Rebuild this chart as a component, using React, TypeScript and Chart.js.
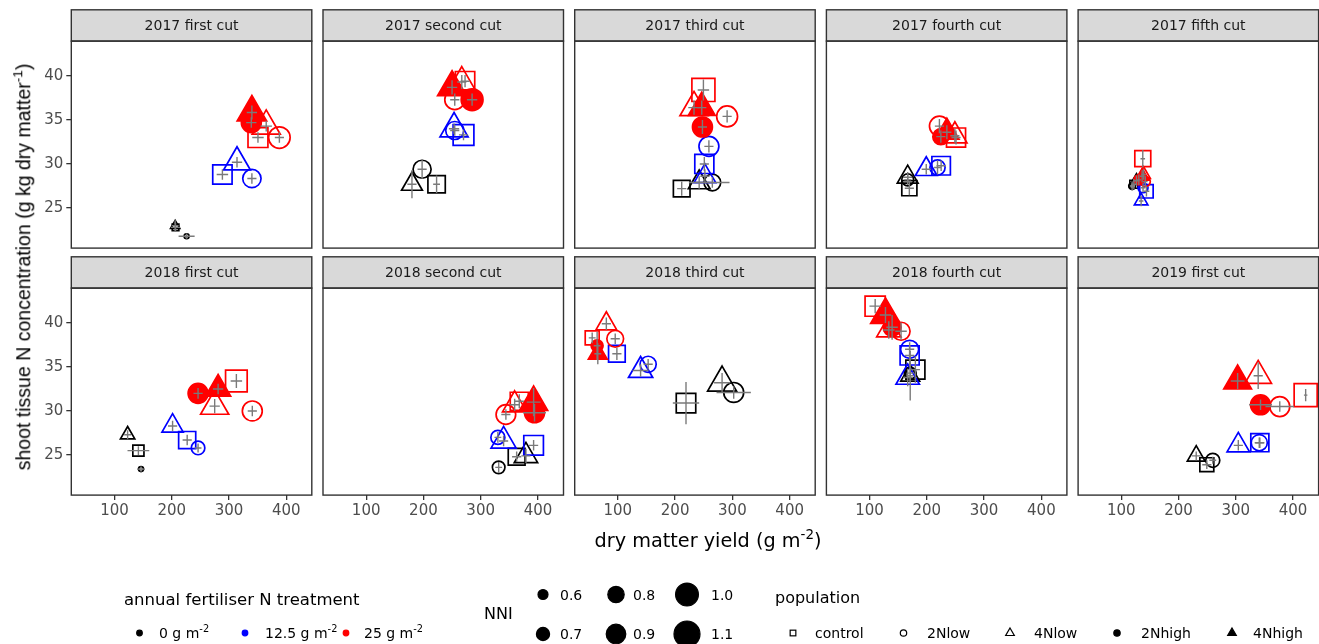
import React, { useEffect, useRef } from 'react';
import { Chart, registerables } from 'chart.js';

Chart.register(...registerables);

// ---------------- data ----------------
const panelTitles = [
  '2017 first cut', '2017 second cut', '2017 third cut', '2017 fourth cut', '2017 fifth cut',
  '2018 first cut', '2018 second cut', '2018 third cut', '2018 fourth cut', '2019 first cut',
];

// point order inside every cut
const pointTreatment = ['0', '0', '0', '12.5', '12.5', '12.5', '25', '25', '25', '25', '25'];
const pointPopulation = ['control', '2Nlow', '4Nlow', 'control', '2Nlow', '4Nlow', 'control', '2Nlow', '4Nlow', '2Nhigh', '4Nhigh'];

// dry matter yield (g m-2)
const dmYield = [
  [206.7, 226, 206, 288.5, 340, 314, 350.6, 388, 365, 339, 340],
  [223, 197.7, 180, 270, 254.7, 253.5, 272.7, 254.7, 267, 285, 250],
  [211.5, 265, 242, 251, 259, 252, 249.4, 290.8, 233, 247.7, 246.5],
  [169.5, 166.6, 166.6, 225, 218.7, 199, 251, 222, 249, 224.5, 235],
  [122, 119, 126.6, 144, 138, 134.7, 137.6, 142, 139, 130.7, 136.5],
  [141.8, 146.4, 123, 227, 246, 201.5, 312.9, 340.7, 275, 246, 281],
  [362.8, 331.4, 379, 392.4, 330, 340, 367.4, 344, 359.3, 394, 392.4],
  [219, 302.3, 282, 98.3, 152.9, 139.7, 55.2, 95.4, 79.9, 63.8, 65],
  [180, 171, 171, 170, 170, 166.6, 109.8, 155, 133.6, 139.4, 127.8],
  [249.4, 259.8, 230.9, 342, 341, 304.4, 422, 376.8, 339.1, 343.2, 303.2],
];
// shoot tissue N concentration (g kg-1)
const nConc = [
  [22.8, 21.8, 23.0, 28.8, 28.35, 30.2, 33.0, 33.0, 34.3, 34.7, 35.85],
  [27.7, 29.4, 27.7, 33.3, 33.8, 34.0, 39.4, 37.3, 39.3, 37.3, 38.7],
  [27.2, 27.9, 27.9, 30.0, 32.0, 28.6, 38.4, 35.4, 36.4, 34.2, 36.4],
  [27.25, 28.2, 28.5, 29.8, 29.6, 29.4, 33.0, 34.3, 33.2, 33.1, 33.6],
  [27.7, 27.5, 28.1, 26.9, 27.3, 25.8, 30.6, 28.0, 28.8, 28.2, 28.6],
  [25.5, 23.4, 27.3, 26.7, 25.8, 28.3, 33.4, 30.0, 30.55, 32.0, 32.5],
  [24.8, 23.6, 24.9, 26.1, 27.0, 26.6, 31.1, 29.6, 30.7, 29.8, 31.0],
  [30.9, 32.1, 33.2, 36.5, 35.3, 34.6, 38.3, 38.2, 39.9, 37.4, 36.5],
  [34.7, 34.3, 34.0, 36.3, 37.0, 33.8, 41.9, 39.05, 39.2, 39.5, 40.9],
  [23.9, 24.4, 24.9, 26.4, 26.4, 26.1, 31.8, 30.5, 34.0, 30.7, 33.4],
];
// nitrogen nutrition index
const nni = [
  [0.52, 0.44, 0.50, 0.97, 0.86, 0.91, 0.99, 0.96, 0.94, 0.91, 0.97],
  [0.90, 0.85, 0.77, 1.02, 0.85, 0.94, 0.97, 0.91, 0.91, 0.97, 0.96],
  [0.875, 0.81, 0.79, 0.96, 0.91, 0.79, 1.10, 0.94, 0.94, 0.91, 0.91],
  [0.82, 0.66, 0.77, 0.94, 0.76, 0.79, 0.96, 0.91, 0.85, 0.79, 0.85],
  [0.57, 0.50, 0.57, 0.76, 0.60, 0.60, 0.85, 0.60, 0.60, 0.60, 0.60],
  [0.68, 0.44, 0.62, 0.89, 0.71, 0.78, 1.05, 0.91, 0.94, 0.91, 0.87],
  [0.88, 0.68, 0.83, 0.98, 0.725, 0.87, 0.925, 0.90, 0.85, 0.91, 0.94],
  [0.975, 0.91, 0.96, 0.875, 0.79, 0.85, 0.78, 0.81, 0.77, 0.66, 0.725],
  [0.96, 0.66, 0.725, 0.96, 0.85, 0.83, 1.00, 0.85, 0.85, 0.85, 0.975],
  [0.78, 0.725, 0.70, 0.925, 0.79, 0.81, 1.10, 0.91, 0.905, 0.91, 0.93],
];
// standard errors
const dmYieldErr = [
  [8, 14, 6, 10, 8, 9, 10, 8, 10, 9, 9],
  [6, 8, 8, 8, 8, 9, 8, 8, 8, 9, 9],
  [8, 30, 18, 8, 8, 8, 10, 8, 10, 8, 8],
  [8, 6, 8, 8, 6, 8, 8, 8, 8, 8, 8],
  [5, 4, 5, 5, 4, 4, 4, 4, 4, 4, 4],
  [19, 7, 6, 8, 6, 8, 10, 8, 9, 8, 9],
  [8, 6, 8, 8, 6, 8, 8, 8, 8, 20, 12],
  [23, 30, 14, 8, 8, 14, 6, 8, 8, 6, 6],
  [8, 6, 6, 8, 8, 8, 10, 10, 10, 10, 10],
  [8, 6, 8, 8, 8, 8, 3, 25, 8, 20, 12],
];
const nConcErr = [
  [0.5, 0.3, 0.6, 0.6, 0.6, 0.6, 0.6, 0.6, 0.6, 0.6, 0.8],
  [1.0, 1.1, 1.6, 0.6, 0.6, 0.6, 0.7, 0.7, 0.8, 0.7, 0.8],
  [0.8, 0.6, 0.7, 0.8, 0.7, 0.8, 1.2, 0.7, 0.8, 0.8, 0.8],
  [0.8, 0.6, 0.6, 0.6, 0.8, 0.6, 0.8, 0.8, 0.8, 0.7, 0.8],
  [0.6, 0.5, 0.6, 0.6, 0.5, 0.6, 1.0, 0.6, 0.6, 0.6, 0.7],
  [0.5, 0.3, 0.5, 0.6, 0.5, 0.6, 0.8, 0.6, 0.8, 0.6, 0.6],
  [0.6, 0.6, 0.8, 0.6, 0.6, 0.6, 0.8, 0.6, 0.7, 1.0, 1.6],
  [2.4, 0.7, 1.1, 0.7, 0.6, 0.7, 0.6, 0.6, 0.7, 1.6, 1.2],
  [1.5, 1.0, 2.8, 1.2, 0.8, 1.0, 0.8, 1.0, 1.0, 1.4, 0.9],
  [0.5, 0.4, 0.5, 0.6, 0.6, 0.6, 0.7, 0.6, 1.5, 0.6, 0.9],
];

const xTicks = [100, 200, 300, 400];
const yTicks = [25, 30, 35, 40];
const fertLegendLabels = ['0', '12.5', '25'];
const nniLegendValues = [0.6, 0.7, 0.8, 0.9, 1.0, 1.1];
const populationLegend = ['control', '2Nlow', '4Nlow', '2Nhigh', '4Nhigh'];

// ---------------- styles ----------------
const X_MIN = 24.65, X_MAX = 444.6;
const Y_MIN = 20.45, Y_MAX = 43.95;
const COL_LEFT = [71.3, 323.0, 574.7, 826.4, 1078.1];
const ROW_STRIP_TOP = [9.8, 256.8];
const STRIP_H = 31.3;
const PLOT_W = 240.5;
const PLOT_H = 207;
const XAXIS_H = 30;
const FONT = '"DejaVu Sans", sans-serif';

const treatmentColor: Record<string, string> = { '0': '#000000', '12.5': '#0000FF', '25': '#FF0000' };
const popShape: Record<string, { style: string; filled: boolean }> = {
  control: { style: 'rect', filled: false },
  '2Nlow': { style: 'circle', filled: false },
  '4Nlow': { style: 'triangle', filled: false },
  '2Nhigh': { style: 'circle', filled: true },
  '4Nhigh': { style: 'triangle', filled: true },
};
const shapeFactor: Record<string, number> = { circle: 1, rect: 1.253, triangle: 1.555 };
const sizeForNni = (v: number) => Math.max(1.5, 5 + (v - 0.6) * 16);

function geom(index: number) {
  const row = Math.floor(index / 5);
  const col = index % 5;
  const L = COL_LEFT[col];
  const canvasLeft = col === 0 ? 0 : Math.floor(L) - 3;
  const innerLeft = L - canvasLeft;
  const cw = Math.min(Math.ceil(innerLeft + PLOT_W + 3), 1319 - canvasLeft);
  const stripTop = ROW_STRIP_TOP[row];
  const canvasTop = Math.floor(stripTop) - 2;
  const padTop = stripTop + STRIP_H - canvasTop;
  const bottomExtra = row === 1 ? XAXIS_H : 14;
  const ch = Math.ceil(padTop + PLOT_H + bottomExtra);
  const padBottom = ch - padTop - PLOT_H - (row === 1 ? XAXIS_H : 0);
  const padRight = cw - innerLeft - PLOT_W;
  return { row, col, canvasLeft, canvasTop, cw, ch, innerLeft, padTop, padBottom, padRight };
}

const facetPlugin = {
  id: 'facet',
  beforeDraw(chart: any, _args: any, opts: any) {
    const { ctx, chartArea: a } = chart;
    ctx.save();
    ctx.fillStyle = '#d9d9d9';
    ctx.fillRect(a.left, a.top - STRIP_H, a.right - a.left, STRIP_H);
    ctx.strokeStyle = '#333333';
    ctx.lineWidth = 1.4;
    ctx.strokeRect(a.left, a.top - STRIP_H, a.right - a.left, STRIP_H);
    ctx.fillStyle = '#1a1a1a';
    ctx.font = '14px ' + FONT;
    ctx.textAlign = 'center';
    ctx.textBaseline = 'middle';
    ctx.fillText(opts.title, (a.left + a.right) / 2, a.top - STRIP_H / 2 + 1);
    ctx.restore();
  },
  afterDatasetsDraw(chart: any, _args: any, opts: any) {
    const { ctx, chartArea: a, scales } = chart;
    const p = opts.panel;
    ctx.save();
    ctx.beginPath();
    ctx.rect(a.left, a.top, a.right - a.left, a.bottom - a.top);
    ctx.clip();
    ctx.strokeStyle = '#7a7a7a';
    ctx.lineWidth = 1.4;
    for (let i = 0; i < dmYield[p].length; i++) {
      const x = dmYield[p][i], y = nConc[p][i];
      const ex = dmYieldErr[p][i], ey = nConcErr[p][i];
      const px = scales.x.getPixelForValue(x), py = scales.y.getPixelForValue(y);
      ctx.beginPath();
      ctx.moveTo(scales.x.getPixelForValue(x - ex), py);
      ctx.lineTo(scales.x.getPixelForValue(x + ex), py);
      ctx.moveTo(px, scales.y.getPixelForValue(y - ey));
      ctx.lineTo(px, scales.y.getPixelForValue(y + ey));
      ctx.stroke();
    }
    ctx.restore();
    ctx.save();
    ctx.strokeStyle = '#333333';
    ctx.lineWidth = 1.4;
    ctx.strokeRect(a.left, a.top, a.right - a.left, a.bottom - a.top);
    ctx.restore();
  },
};

function Panel({ index }: { index: number }) {
  const ref = useRef<HTMLCanvasElement | null>(null);
  const g = geom(index);
  useEffect(() => {
    if (!ref.current) return;
    const p = index;
    const data = dmYield[p].map((x, i) => ({ x, y: nConc[p][i] }));
    const styles = pointPopulation.map((pop) => popShape[pop].style);
    const colors = pointTreatment.map((t) => treatmentColor[t]);
    const fills = pointPopulation.map((pop, i) => (popShape[pop].filled ? colors[i] : 'rgba(0,0,0,0)'));
    const radii = nni[p].map((v, i) => sizeForNni(v) * shapeFactor[styles[i]]);
    const tickFont = { family: FONT, size: 15 };
    const chart = new Chart(ref.current, {
      type: 'scatter',
      data: {
        datasets: [
          {
            data,
            pointStyle: styles as any,
            pointRadius: radii,
            pointBorderColor: colors,
            pointBackgroundColor: fills,
            pointBorderWidth: 1.7,
            showLine: false,
            clip: 0,
          } as any,
        ],
      },
      options: {
        responsive: false,
        animation: false,
        devicePixelRatio: 1,
        events: [],
        layout: {
          autoPadding: false,
          padding: {
            left: g.col === 0 ? 0 : g.innerLeft,
            right: g.padRight,
            top: g.padTop,
            bottom: g.padBottom,
          },
        },
        plugins: {
          legend: { display: false },
          tooltip: { enabled: false },
          facet: { title: panelTitles[p], panel: p },
        } as any,
        scales: {
          x: {
            type: 'linear',
            min: X_MIN,
            max: X_MAX,
            display: g.row === 1,
            afterBuildTicks: (s: any) => { s.ticks = xTicks.map((v) => ({ value: v })); },
            afterFit: (s: any) => { s.height = g.row === 1 ? XAXIS_H : 0; },
            grid: { display: true, drawOnChartArea: false, drawTicks: true, tickLength: 5, color: '#333333', lineWidth: 1.3 },
            border: { display: false },
            ticks: { color: '#4d4d4d', font: tickFont, padding: 2, maxRotation: 0, autoSkip: false },
          },
          y: {
            type: 'linear',
            min: Y_MIN,
            max: Y_MAX,
            display: g.col === 0,
            afterBuildTicks: (s: any) => { s.ticks = yTicks.map((v) => ({ value: v })); },
            afterFit: (s: any) => { s.width = g.col === 0 ? g.innerLeft : 0; },
            grid: { display: true, drawOnChartArea: false, drawTicks: true, tickLength: 5, color: '#333333', lineWidth: 1.3 },
            border: { display: false },
            ticks: { color: '#4d4d4d', font: tickFont, padding: 3, autoSkip: false },
          },
        },
      } as any,
      plugins: [facetPlugin as any],
    });
    return () => chart.destroy();
  }, [index]);
  return (
    <canvas
      ref={ref}
      width={g.cw}
      height={g.ch}
      style={{ position: 'absolute', left: g.canvasLeft, top: g.canvasTop, width: g.cw, height: g.ch }}
    />
  );
}

function Txt({ x, y, size, children, color = '#000' }: any) {
  return (
    <div
      style={{
        position: 'absolute', left: x, top: y, transform: 'translateY(-50%)',
        fontFamily: FONT, fontSize: size, color, whiteSpace: 'nowrap', lineHeight: 1,
      }}
    >
      {children}
    </div>
  );
}

const Sup = ({ children }: any) => (
  <sup style={{ fontSize: '0.7em', verticalAlign: '0.6em', lineHeight: 0 }}>{children}</sup>
);

function shapeSvg(key: string, cx: number, cy: number, R: number, style: string, filled: boolean, color: string) {
  const fill = filled ? color : 'none';
  if (style === 'circle') return <circle key={key} cx={cx} cy={cy} r={R} fill={fill} stroke={color} strokeWidth={1.2} />;
  if (style === 'rect') {
    const h = 0.886 * R;
    return <rect key={key} x={cx - h} y={cy - h} width={2 * h} height={2 * h} fill={fill} stroke={color} strokeWidth={1.2} />;
  }
  const pts = `${cx},${cy - 1.555 * R} ${cx + 1.347 * R},${cy + 0.778 * R} ${cx - 1.347 * R},${cy + 0.778 * R}`;
  return <polygon key={key} points={pts} fill={fill} stroke={color} strokeWidth={1.2} />;
}

function Legend() {
  const fertDotX = [139.5, 245, 346];
  const fertTextX = [159, 265, 364];
  const nniX = [543, 616, 687];
  const nniTextX = [560, 633, 711];
  const nniY = [594.5, 634];
  const popSymX = [793, 903.5, 1010, 1117, 1232];
  const popTextX = [815, 927, 1034, 1141, 1253];
  const rowY = 633;
  const shapes: any[] = [];
  fertLegendLabels.forEach((t, i) => shapes.push(shapeSvg('f' + i, fertDotX[i], rowY, 2.8, 'circle', true, treatmentColor[t])));
  nniLegendValues.forEach((v, i) => shapes.push(shapeSvg('n' + i, nniX[Math.floor(i / 2)], nniY[i % 2], sizeForNni(v), 'circle', true, '#000')));
  populationLegend.forEach((pop, i) => shapes.push(shapeSvg('p' + i, popSymX[i], rowY, 3.2, popShape[pop].style, popShape[pop].filled, '#000')));
  return (
    <>
      <svg width={1319} height={644} style={{ position: 'absolute', left: 0, top: 0 }}>{shapes}</svg>
      <Txt x={124} y={600} size={16.5}>annual fertiliser N treatment</Txt>
      {fertLegendLabels.map((t, i) => (
        <Txt key={'ft' + i} x={fertTextX[i]} y={rowY} size={14}>{t} g m<Sup>-2</Sup></Txt>
      ))}
      <Txt x={484} y={614} size={16}>NNI</Txt>
      {nniLegendValues.map((v, i) => (
        <Txt key={'nt' + i} x={nniTextX[Math.floor(i / 2)]} y={nniY[i % 2]} size={14}>{v.toFixed(1)}</Txt>
      ))}
      <Txt x={775} y={598} size={16}>population</Txt>
      {populationLegend.map((pop, i) => (
        <Txt key={'pt' + i} x={popTextX[i]} y={rowY} size={14}>{pop}</Txt>
      ))}
    </>
  );
}

export default function App() {
  return (
    <div style={{ position: 'absolute', left: 0, top: 0, width: 1319, height: 644, overflow: 'hidden', background: '#fff' }}>
      {panelTitles.map((_, i) => <Panel key={i} index={i} />)}
      <div
        style={{
          position: 'absolute', left: 24, top: 267, transform: 'translate(-50%, -50%) rotate(-90deg)',
          fontFamily: '"Liberation Sans", Arial, sans-serif', fontSize: 19.5, whiteSpace: 'nowrap', lineHeight: 1, color: '#000',
        }}
      >
        shoot tissue N concentration (g kg dry matter<Sup>-1</Sup>)
      </div>
      <div
        style={{
          position: 'absolute', left: 708, top: 541, transform: 'translate(-50%, -50%)',
          fontFamily: FONT, fontSize: 19.25, whiteSpace: 'nowrap', lineHeight: 1, color: '#000',
        }}
      >
        dry matter yield (g m<Sup>-2</Sup>)
      </div>
      <Legend />
    </div>
  );
}
